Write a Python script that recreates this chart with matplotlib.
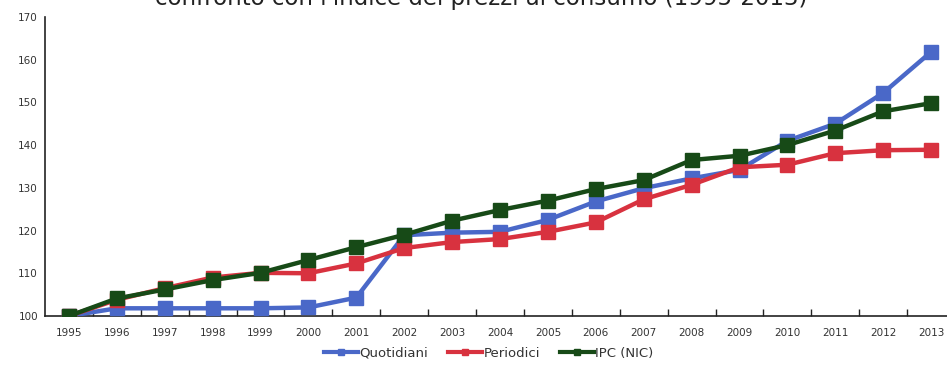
import matplotlib
matplotlib.use("Agg")
import matplotlib.pyplot as plt
from matplotlib.lines import Line2D

years = ["1995", "1996", "1997", "1998", "1999", "2000", "2001", "2002", "2003", "2004",
         "2005", "2006", "2007", "2008", "2009", "2010", "2011", "2012", "2013"]
quotidiani = [100.0, 101.8, 101.8, 101.8, 101.8, 102.0, 104.3, 118.9, 119.5, 119.7,
              122.5, 126.8, 129.9, 132.2, 134.2, 141.0, 145.0, 152.2, 161.8]
periodici = [100.0, 103.8, 106.5, 109.0, 110.1, 110.0, 112.3, 115.9, 117.3, 118.0,
             119.7, 121.9, 127.3, 130.7, 134.8, 135.4, 138.1, 138.8, 138.9]
ipc = [100.0, 104.1, 106.2, 108.4, 110.1, 113.1, 116.1, 119.0, 122.3, 124.8,
       127.0, 129.7, 131.8, 136.5, 137.5, 140.0, 143.4, 147.9, 149.8]
series_names = ["Quotidiani", "Periodici", "IPC (NIC)"]
colors = ["#4a68c8", "#d8323f", "#174a17"]
title = "confronto con l'indice dei prezzi al consumo (1995-2013)"
y_ticks = [100, 110, 120, 130, 140, 150, 160, 170]

fig = plt.figure(figsize=(9.47, 3.67), dpi=100)
ax = fig.add_axes([0.0475, 0.139, 0.961, 0.815])

x = list(range(len(years)))
for vals, col in zip([quotidiani, periodici, ipc], colors):
    ax.plot(x, vals, color=col, lw=3.2, marker="s", markersize=10,
            markerfacecolor=col, markeredgecolor=col, solid_joinstyle="round", zorder=3)

ax.set_xlim(-0.5, 18.5)
ax.set_ylim(100, 170)
ax.set_yticks(y_ticks)
ax.set_yticklabels([str(v) for v in y_ticks], fontsize=7.5, color="#333333")
ax.tick_params(axis="y", length=0, pad=5)

ax.set_xticks([i + 0.5 for i in range(len(years) - 1)])
ax.set_xticklabels([])
ax.set_xticks(x, minor=True)
ax.set_xticklabels(years, minor=True, fontsize=7.5, color="#333333")
ax.tick_params(axis="x", which="major", direction="in", length=5, width=1, color="#222222")
ax.tick_params(axis="x", which="minor", length=0, pad=9)

for s in ["top", "right"]:
    ax.spines[s].set_visible(False)
for s in ["left", "bottom"]:
    ax.spines[s].set_color("#222222")
    ax.spines[s].set_linewidth(1.2)
ax.spines["left"].set_zorder(1)

handles = [Line2D([0], [0], color=c, lw=3, marker="s", markersize=4) for c in colors]
fig.legend(handles, series_names, loc="center", bbox_to_anchor=(0.516, 0.038), ncol=3,
           frameon=False, fontsize=9.5, handlelength=2.6, handletextpad=0.1,
           columnspacing=1.5, labelcolor="#333333")

fig.text(0.508, 1 - 5 / 367, title, ha="center", va="baseline", fontsize=16.5,
         color="#222222")

fig.savefig("out.png", dpi=100)
